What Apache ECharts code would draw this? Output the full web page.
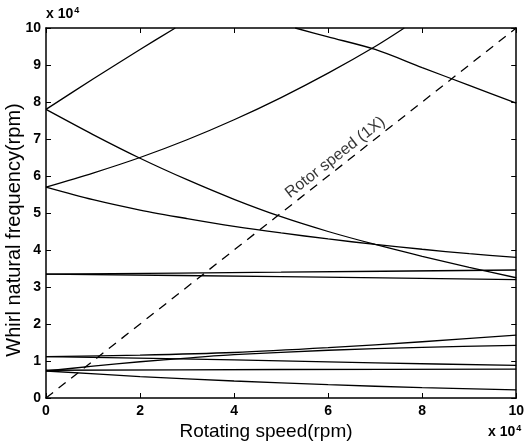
<!DOCTYPE html>
<html>
<head>
<meta charset="utf-8">
<script src="https://cdn.jsdelivr.net/npm/echarts@6/dist/echarts.min.js"></script>
<style>
  html, body { margin: 0; padding: 0; background: #fff; }
  #chart { width: 527px; height: 444px; }
</style>
</head>
<body>
<div id="chart"></div>
<script>
// 数据（单位 x10^4 rpm）
var xTicks = [0, 2, 4, 6, 8, 10];
var yTicks = [0, 1, 2, 3, 4, 5, 6, 7, 8, 9, 10];

// 高阶模态
var modeA = [[0, 7.8], [1, 8.62], [2, 9.42], [2.75, 10]];
var modeB = [[0, 7.8], [1, 7.12], [2, 6.48], [3, 5.9], [4, 5.37], [5, 4.9], [6, 4.5], [7, 4.15], [8, 3.83], [9, 3.53], [10, 3.25]];
var modeC = [[0, 5.7], [1, 5.36], [2, 5.08], [3, 4.85], [4, 4.64], [5, 4.46], [6, 4.3], [7, 4.15], [8, 4.02], [9, 3.9], [10, 3.8]];
var modeD = [[0, 5.7], [1, 6.08], [2, 6.5], [3, 6.98], [4, 7.52], [5, 8.12], [6, 8.78], [7, 9.5], [7.62, 10]];
var modeE = [[5.3, 10], [6, 9.76], [7, 9.42], [8, 8.93], [9, 8.45], [10, 7.97]];
// 3.35 附近两条
var modeF1 = [[0, 3.35], [5, 3.4], [10, 3.46]];
var modeF2 = [[0, 3.35], [5, 3.28], [10, 3.2]];
// 低阶模态
var modeG1 = [[0, 1.12], [2, 1.16], [4, 1.23], [6, 1.36], [8, 1.52], [10, 1.7]];
var modeG2 = [[0, 1.12], [4, 1.03], [7, 0.95], [10, 0.88]];
var modeH1 = [[0, 0.73], [1, 0.86], [2, 0.98], [3, 1.08], [4, 1.17], [6, 1.29], [8, 1.37], [10, 1.42]];
var modeH2 = [[0, 0.75], [5, 0.77], [10, 0.78]];
var modeH3 = [[0, 0.73], [2, 0.58], [4, 0.46], [6, 0.36], [8, 0.28], [10, 0.22]];
// 转速线 1X
var rotorLine = [[0, 0], [10, 10]];
var rotorLabelAt = [[6.15, 6.5]];

var modes = [modeA, modeB, modeC, modeD, modeE, modeF1, modeF2, modeG1, modeG2, modeH1, modeH2, modeH3];

var chart = echarts.init(document.getElementById('chart'), null, { renderer: 'canvas' });

var tickFont = { color: '#000', fontSize: 14, fontWeight: 'bold', fontFamily: 'Liberation Sans, Arial, sans-serif' };

function boxAxis(pos, isX) {
    return {
        type: 'value',
        position: pos,
        min: 0,
        max: 10,
        interval: isX ? 2 : 1,
        axisLine: { show: true, onZero: false, lineStyle: { color: '#000', width: 1.5 } },
        axisTick: { show: true, inside: true, length: 5, lineStyle: { color: '#000', width: 1 } },
        splitLine: { show: false },
        axisLabel: { show: false }
    };
}

var xBottom = boxAxis('bottom', true);
xBottom.axisLabel = Object.assign({ show: true, margin: 6 }, tickFont);
var xTop = boxAxis('top', true);
var yLeft = boxAxis('left', false);
yLeft.axisLabel = Object.assign({ show: true, margin: 5 }, tickFont);
var yRight = boxAxis('right', false);

var series = [];
modes.forEach(function (m) {
    series.push({
        type: 'line',
        data: m,
        smooth: 0.3,
        symbol: 'none',
        clip: true,
        lineStyle: { color: '#000', width: 1.3 },
        silent: true
    });
});
series.push({
    type: 'line',
    data: rotorLine,
    symbol: 'none',
    lineStyle: { color: '#000', width: 1.3, type: [9, 7] },
    silent: true
});
series.push({
    type: 'scatter',
    data: rotorLabelAt,
    symbolSize: 0,
    silent: true,
    label: {
        show: true,
        position: 'inside',
        formatter: 'Rotor speed (1X)',
        rotate: 38,
        color: '#000',
        fontSize: 16,
        fontFamily: 'Liberation Sans, Arial, sans-serif'
    }
});

var x104 = {
    text: '{a|x 10}{b|4}',
    rich: {
        a: { fontSize: 14, fontWeight: 'bold', fontFamily: 'Liberation Sans, Arial', fill: '#000' },
        b: { fontSize: 9, fontWeight: 'bold', fontFamily: 'Liberation Sans, Arial', fill: '#000', verticalAlign: 'top', padding: [0, 0, 8, 1] }
    }
};

chart.setOption({
    backgroundColor: '#fff',
    animation: false,
    grid: { left: 46, right: 9, top: 28, bottom: 46 },
    xAxis: [xBottom, xTop],
    yAxis: [yLeft, yRight],
    series: series,
    graphic: [
        { type: 'text', left: 46, top: 6, style: x104 },
        { type: 'text', left: 488, top: 424, style: x104 },
        {
            type: 'text',
            x: 266, y: 432,
            style: {
                text: 'Rotating speed(rpm)',
                fontSize: 19,
                fontFamily: 'Liberation Sans, Arial, sans-serif',
                fill: '#000',
                textAlign: 'center',
                textVerticalAlign: 'middle'
            }
        },
        {
            type: 'text',
            x: 14, y: 230,
            rotation: Math.PI / 2,
            style: {
                text: 'Whirl natural frequency(rpm)',
                fontSize: 20,
                fontFamily: 'Liberation Sans, Arial, sans-serif',
                fill: '#000',
                textAlign: 'center',
                textVerticalAlign: 'middle'
            }
        }
    ]
});
</script>
</body>
</html>
